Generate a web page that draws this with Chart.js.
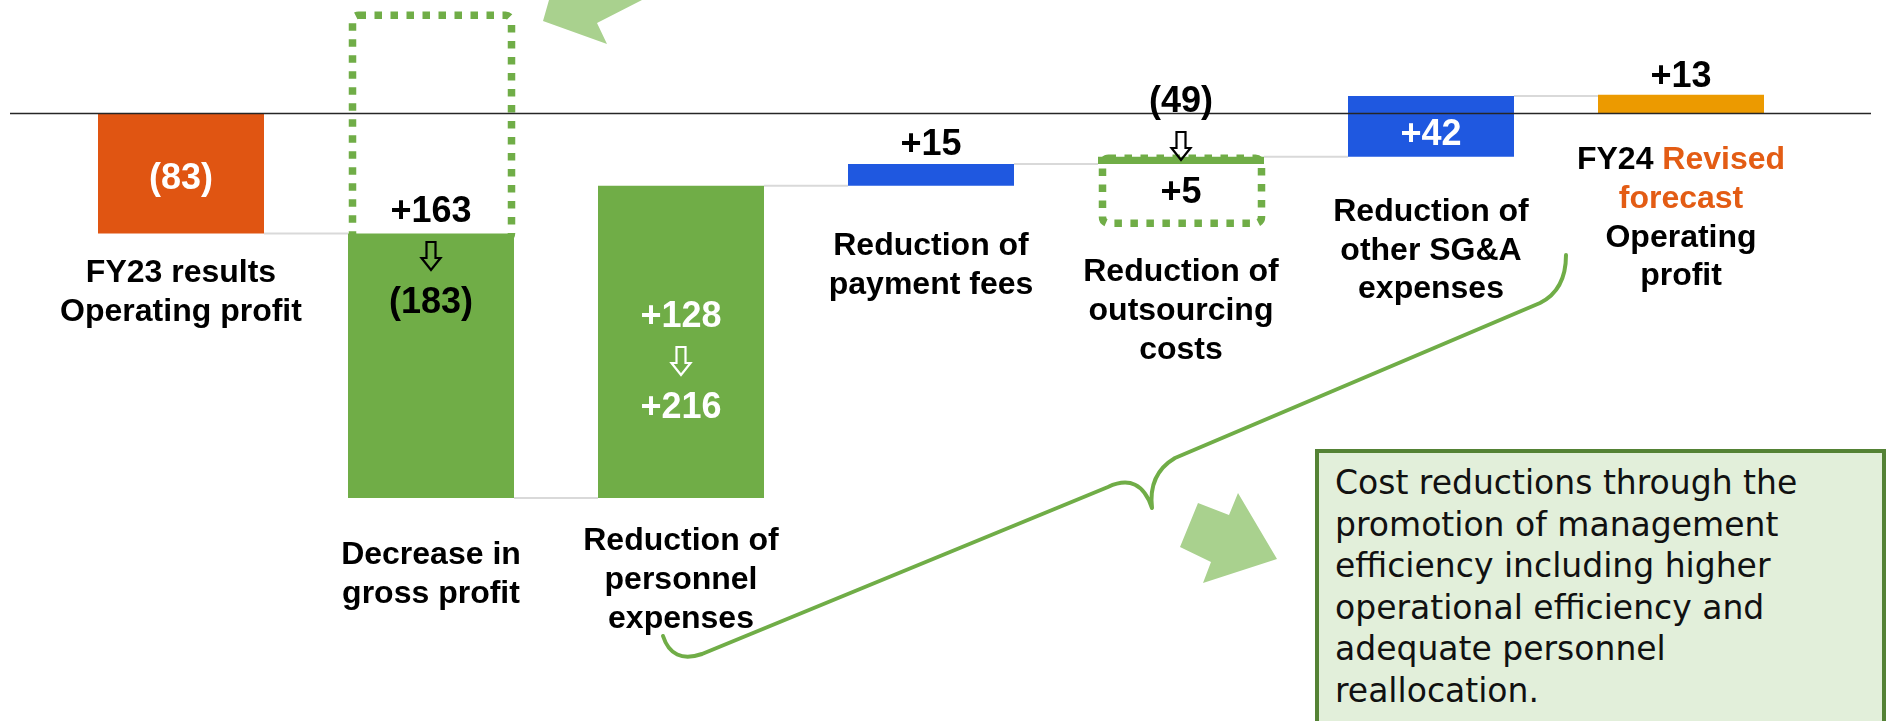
<!DOCTYPE html>
<html>
<head>
<meta charset="utf-8">
<title>FY24 operating profit bridge</title>
<script src="https://cdn.jsdelivr.net/npm/chart.js@4.4.1/dist/chart.umd.min.js"></script>
<style>
  html, body { margin: 0; padding: 0; background: #fff; overflow: hidden; }
  #wrap { position: relative; width: 1887px; height: 721px; overflow: hidden; }
  #note {
    position: absolute; left: 1315px; top: 449px; width: 571px; height: 320px;
    box-sizing: border-box; border: 4px solid #548235; background: #E2EFDA;
    font: 33px/41.6px 'DejaVu Sans', sans-serif; color: #111;
    padding: 9px 0 0 16px; white-space: nowrap;
  }
</style>
</head>
<body>
<div id="wrap">
  <canvas id="bridge"></canvas>
  <div id="note">Cost reductions through the<br>promotion of management<br>efficiency including higher<br>operational efficiency and<br>adequate personnel<br>reallocation.</div>
</div>
<script>
// Operating profit bridge, FY23 results -> FY24 revised forecast
const categories = [
  ['FY23 results', 'Operating profit'],
  ['Decrease in', 'gross profit'],
  ['Reduction of', 'personnel', 'expenses'],
  ['Reduction of', 'payment fees'],
  ['Reduction of', 'outsourcing', 'costs'],
  ['Reduction of', 'other SG&A', 'expenses'],
  ['FY24 Revised', 'forecast', 'Operating', 'profit']
];
const changes = [-83, -183, 216, 15, 5, 42, 13];
const isTotal = [true, false, false, false, false, false, true];
// previous figures shown before the arrow
const planChanges = [null, 163, 128, null, -49, null, null];
// dotted boxes (previous plan)
const planBoxLow = [null, -87, null, null, -76, null, null];
const planBoxHigh = [null, 68, null, null, -31, null, null];
const accentWords = ['Revised', 'forecast'];

// styles / layout
const GREEN = '#70AD47';
const ORANGE = '#E35C14';
const barColors = ['#E05512', GREEN, GREEN, '#1F58E0', GREEN, '#1F58E0', '#EC9A00'];
const valueColors = ['#fff', '#000', '#fff', '#000', '#000', '#fff', '#000'];
const valueBaseline = [189, 222, 327, 155, 112, 145, 87];
const labelGap = [49, 66, 52, 69, 117, 64, 55.5]; // first baseline below bar bottom
const LINE_H = 38.8;
const BOLD = "bold 32px 'Liberation Sans', Arial, sans-serif";
const VALUE_FONT = "bold 36px 'Liberation Sans', Arial, sans-serif";

// floating bars for the waterfall
let running = 0;
const bars = changes.map((v, i) => {
  if (isTotal[i]) { running = v; return [0, v]; }
  const start = running;
  running += v;
  return [start, running];
});

const fmt = v => v < 0 ? `(${-v})` : `+${v}`;

function downArrow(ctx, cx, top, color) {
  ctx.beginPath();
  ctx.moveTo(cx - 4.5, top);
  ctx.lineTo(cx + 4.5, top);
  ctx.lineTo(cx + 4.5, top + 16);
  ctx.lineTo(cx + 9.5, top + 16);
  ctx.lineTo(cx, top + 28);
  ctx.lineTo(cx - 9.5, top + 16);
  ctx.lineTo(cx - 4.5, top + 16);
  ctx.closePath();
  ctx.strokeStyle = color;
  ctx.lineWidth = 2.2;
  ctx.stroke();
}

function drawLine(ctx, text, cx, y, accent) {
  const words = text.split(' ');
  let x = cx - ctx.measureText(text).width / 2;
  ctx.textAlign = 'left';
  words.forEach((w, k) => {
    const piece = k < words.length - 1 ? w + ' ' : w;
    ctx.fillStyle = accent && accentWords.includes(w) ? ORANGE : '#000';
    ctx.fillText(piece, x, y);
    x += ctx.measureText(piece).width;
  });
}

// decorative shapes (annotation call-outs)
const topArrow = [[549, 0], [543, 21], [607, 44], [597, 23], [642, 0]];
const noteArrow = [[1198, 503], [1229, 515], [1238, 493], [1277, 559], [1203, 583], [1211, 562], [1180, 547]];

function fillPoly(ctx, pts, color) {
  ctx.beginPath();
  pts.forEach((p, k) => k ? ctx.lineTo(p[0], p[1]) : ctx.moveTo(p[0], p[1]));
  ctx.closePath();
  ctx.fillStyle = color;
  ctx.fill();
}

const bridgeDecor = {
  id: 'bridgeDecor',
  beforeDatasetsDraw(chart) {
    const ctx = chart.ctx;
    const y = chart.scales.y;
    const meta = chart.getDatasetMeta(0);
    ctx.save();
    // dotted plan boxes
    ctx.strokeStyle = GREEN;
    ctx.lineWidth = 7.5;
    ctx.setLineDash([7.5, 8.5]);
    planBoxLow.forEach((lo, i) => {
      if (lo === null) return;
      const bar = meta.data[i];
      const left = bar.x - bar.width / 2 + 4.5;
      const right = bar.x + bar.width / 2 - 2.5;
      const top = y.getPixelForValue(planBoxHigh[i]);
      const bottom = y.getPixelForValue(lo);
      ctx.beginPath();
      ctx.roundRect(left, top, right - left, bottom - top, 6);
      ctx.stroke();
    });
    // connectors
    ctx.setLineDash([]);
    ctx.strokeStyle = '#D9D9D9';
    ctx.lineWidth = 2;
    for (let i = 0; i < bars.length - 1; i++) {
      const a = meta.data[i], b = meta.data[i + 1];
      const yy = y.getPixelForValue(bars[i][1]);
      ctx.beginPath();
      ctx.moveTo(a.x + a.width / 2, yy);
      ctx.lineTo(b.x - b.width / 2, yy);
      ctx.stroke();
    }
    ctx.restore();
  },
  afterDatasetsDraw(chart) {
    const ctx = chart.ctx;
    const y = chart.scales.y;
    const area = chart.chartArea;
    const meta = chart.getDatasetMeta(0);
    ctx.save();

    // zero line
    const y0 = y.getPixelForValue(0);
    ctx.strokeStyle = '#262626';
    ctx.lineWidth = 1.5;
    ctx.beginPath();
    ctx.moveTo(area.left - 46, y0);
    ctx.lineTo(area.right + 65, y0);
    ctx.stroke();

    // value labels
    ctx.font = VALUE_FONT;
    ctx.textAlign = 'center';
    ctx.textBaseline = 'alphabetic';
    changes.forEach((v, i) => {
      const cx = meta.data[i].x;
      const b = valueBaseline[i];
      ctx.fillStyle = valueColors[i];
      if (planChanges[i] !== null) {
        ctx.fillText(fmt(planChanges[i]), cx, b);
        downArrow(ctx, cx, b + 20, valueColors[i]);
        ctx.fillText(fmt(v), cx, b + 91);
      } else {
        ctx.fillText(fmt(v), cx, b);
      }
    });

    // category labels under each bar
    ctx.font = BOLD;
    categories.forEach((lines, i) => {
      const bar = meta.data[i];
      const first = Math.max(bar.y, bar.base) + labelGap[i];
      lines.forEach((t, k) => drawLine(ctx, t, bar.x, first + k * LINE_H, i === 6));
    });

    // call-out arrows and brace
    fillPoly(ctx, topArrow, '#A9D18E');
    fillPoly(ctx, noteArrow, '#A9D18E');
    ctx.strokeStyle = GREEN;
    ctx.lineWidth = 4;
    ctx.lineCap = 'round';
    ctx.lineJoin = 'round';
    ctx.beginPath();
    ctx.moveTo(663, 636);
    ctx.quadraticCurveTo(672, 664, 702, 654);
    ctx.lineTo(1108, 487);
    ctx.quadraticCurveTo(1140, 472, 1152, 508);
    ctx.quadraticCurveTo(1148, 474, 1175, 458);
    ctx.lineTo(1540, 303);
    ctx.quadraticCurveTo(1566, 290, 1566, 255);
    ctx.stroke();
    ctx.restore();
  }
};

new Chart(document.getElementById('bridge'), {
  type: 'bar',
  data: {
    labels: categories,
    datasets: [{
      data: bars,
      backgroundColor: barColors,
      borderWidth: 0,
      barPercentage: 0.664,
      categoryPercentage: 1
    }]
  },
  options: {
    responsive: true,
    maintainAspectRatio: false,
    animation: false,
    layout: { padding: { left: 56, right: 81, top: 0, bottom: 0 } },
    scales: {
      x: { display: false, grid: { display: false } },
      y: { display: false, min: -420.3, max: 78.5, grid: { display: false } }
    },
    plugins: {
      legend: { display: false },
      tooltip: { enabled: false }
    }
  },
  plugins: [bridgeDecor]
});
</script>
</body>
</html>
